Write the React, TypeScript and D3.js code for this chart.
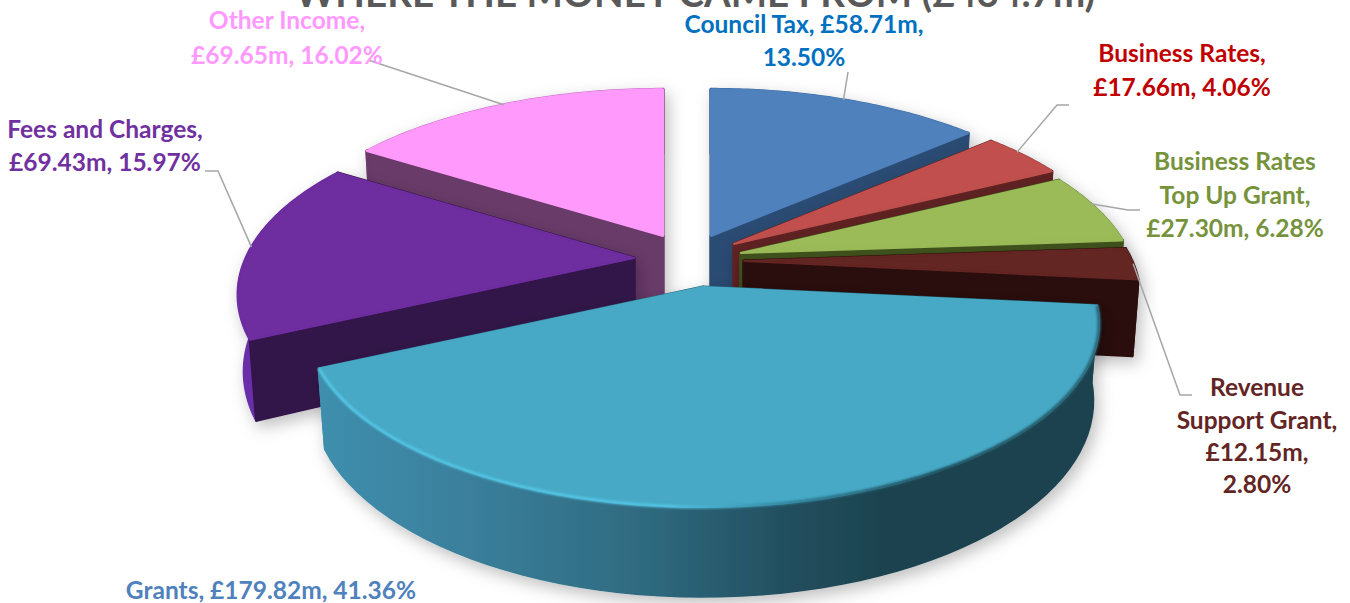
import { useEffect, useRef } from 'react';
import * as d3 from 'd3';

const categories = ['Council Tax', 'Business Rates', 'Business Rates Top Up Grant', 'Revenue Support Grant', 'Grants', 'Fees and Charges', 'Other Income'];
const amounts = [58.71, 17.66, 27.3, 12.15, 179.82, 69.43, 69.65];
const percents = [13.5, 4.06, 6.28, 2.8, 41.36, 15.97, 16.02];
const topColors = ['#4f81bd', '#c0504d', '#9bbb59', '#632523', '#46a9c5', '#6e2d9f', '#ff99fb'];
const wallColors = ['#2c4c73', '#612220', '#40521f', '#2a0c0c', 'url(#grantsWall)', '#31134a', '#693a69'];
const outerColors = ['#3d6a9e', '#8a3a38', '#6d8a3a', '#3a1513', 'url(#grantsWall)', '#6a2ea8', '#c070c0'];
const labelColors = ['#0070c0', '#c00000', '#76933c', '#632523', '#4f81bd', '#7030a0', '#ff99ff'];
const title = 'WHERE THE MONEY CAME FROM (£434.7m)';

const width = 1350;
const height = 603;
const radiusX = 388;
const radiusY = 176;
const tilt = 0.2;
const depth = 75;
const bottomShrink = 0.985;

// where each exploded slice has its point
const apexes: [number, number][] = [[711, 236], [734, 244], [741, 253], [744, 261], [703, 287], [634, 258], [663, 236]];

const labelLayout = [
  { x: 804, ys: [33, 66], lines: (a: string, p: string) => ['Council Tax, ' + a + ',', p], leader: [[848, 72], [848, 72]] },
  { x: 1182, ys: [62, 96], lines: (a: string, p: string) => ['Business Rates,', a + ', ' + p], leader: [[1069, 105], [1057, 105]] },
  { x: 1235, ys: [170, 204, 237], lines: (a: string, p: string) => ['Business Rates', 'Top Up Grant,', a + ', ' + p], leader: [[1140, 210], [1128, 210]] },
  { x: 1257, ys: [396, 429, 461, 493], lines: (a: string, p: string) => ['Revenue', 'Support Grant,', a + ',', p], leader: [[1192, 395], [1180, 395]] },
  { x: 271, ys: [599], lines: (a: string, p: string) => ['Grants, ' + a + ', ' + p], leader: [] },
  { x: 105, ys: [138, 171], lines: (a: string, p: string) => ['Fees and Charges,', a + ', ' + p], leader: [[205, 171], [218, 171]] },
  { x: 287, ys: [29, 64], lines: (a: string, p: string) => ['Other Income,', a + ', ' + p], leader: [[368, 60], [368, 60]] },
];
// leader lines meet the rim at this share of the slice's sweep
const leaderAt = [0.49, 0.4, 0.42, 0.5, 0.5, 0.5, 0.5];

export default function App() {
  const svgRef = useRef<SVGSVGElement>(null);

  useEffect(() => {
    if (!svgRef.current) {
      return;
    }
    const svg = d3.select(svgRef.current);
    svg.selectAll('*').remove();

    const defs = svg.append('defs');
    const shadow = defs.append('filter').attr('id', 'shadow').attr('x', '-20%').attr('y', '-20%').attr('width', '140%').attr('height', '140%');
    shadow.append('feDropShadow').attr('dx', 4).attr('dy', 6).attr('stdDeviation', 8).attr('flood-color', '#000').attr('flood-opacity', 0.25);
    defs.append('filter').attr('id', 'soft').append('feGaussianBlur').attr('stdDeviation', 1);

    const wallGrad = defs.append('linearGradient').attr('id', 'grantsWall').attr('gradientUnits', 'userSpaceOnUse').attr('x1', 314).attr('x2', 1100).attr('y1', 0).attr('y2', 0);
    [[0, '#3f8fae'], [0.2, '#3a7f9b'], [0.42, '#2f6a7f'], [0.6, '#234f60'], [0.72, '#1d434f'], [1, '#1d434f']].forEach(([o, c]) => {
      wallGrad.append('stop').attr('offset', o as number).attr('stop-color', c as string);
    });
    const rimGrad = defs.append('linearGradient').attr('id', 'grantsRim').attr('gradientUnits', 'userSpaceOnUse').attr('x1', 314).attr('x2', 1100).attr('y1', 0).attr('y2', 0);
    [[0, '#55c6e6'], [0.45, '#55c6e6'], [0.62, '#2f7c94'], [0.8, '#1d434f'], [1, '#2a6072']].forEach(([o, c]) => {
      rimGrad.append('stop').attr('offset', o as number).attr('stop-color', c as string);
    });

    const arcs = d3.pie<number>().sort(null).startAngle(0).endAngle(2 * Math.PI)(amounts);

    const project = (i: number, a: number, r: number, d: number): [number, number] => {
      const s = 1 / (1 + tilt * r * Math.cos(a));
      const [cx, cy] = apexes[i];
      return [cx + radiusX * r * Math.sin(a) * s, cy - radiusY * r * Math.cos(a) * s + d * s];
    };

    const line = d3.line();
    const sweep = (i: number, a0: number, a1: number, r: number, d: number) =>
      d3.range(0, 61).map((t) => project(i, a0 + ((a1 - a0) * t) / 60, r, d));

    // back to front, each slice covers the walls of the one behind it
    const drawOrder = [6, 0, 1, 2, 3, 5, 4];
    const pieG = svg.append('g');
    drawOrder.forEach((i) => {
      const { startAngle: a0, endAngle: a1 } = arcs[i];
      const g = pieG.append('g').attr('filter', 'url(#shadow)');
      const rimTop = sweep(i, a0, a1, 1, 0);
      const rimBottom = sweep(i, a0, a1, bottomShrink, depth).reverse();
      const apexTop = project(i, 0, 0, 0);
      const apexBottom = project(i, 0, 0, depth);

      g.append('path')
        .attr('d', `${line([...rimTop, ...rimBottom])}Z`)
        .attr('fill', outerColors[i])
        .attr('stroke', outerColors[i])
        .attr('stroke-width', 3)
        .attr('stroke-linejoin', 'round');
      [[rimTop[60], rimBottom[0]], [rimTop[0], rimBottom[60]]].forEach(([top, bottom]) => {
        g.append('path')
          .attr('d', `${line([apexTop, top, bottom, apexBottom])}Z`)
          .attr('fill', wallColors[i])
          .attr('stroke', wallColors[i])
          .attr('stroke-width', 3)
          .attr('stroke-linejoin', 'round');
      });
      g.append('path')
        .attr('d', `${line([apexTop, ...rimTop])}Z`)
        .attr('fill', topColors[i])
        .attr('stroke', topColors[i])
        .attr('stroke-width', 2)
        .attr('stroke-linejoin', 'round');
      if (i === 4) {
        g.append('path')
          .attr('d', line(rimTop))
          .attr('fill', 'none')
          .attr('stroke', 'url(#grantsRim)')
          .attr('stroke-width', 3)
          .attr('filter', 'url(#soft)');
      }
    });

    arcs.forEach((arc, i) => {
      const layout = labelLayout[i];
      const amount = `£${amounts[i].toFixed(2)}m`;
      const percent = `${percents[i].toFixed(2)}%`;
      if (layout.leader.length) {
        const rim = project(i, arc.startAngle + (arc.endAngle - arc.startAngle) * leaderAt[i], 1, 0);
        svg.append('path')
          .attr('d', line([...(layout.leader as [number, number][]), rim]))
          .attr('fill', 'none')
          .attr('stroke', '#a6a6a6')
          .attr('stroke-width', 1.5);
      }
      layout.lines(amount, percent).forEach((text, j) => {
        svg.append('text')
          .attr('x', layout.x)
          .attr('y', layout.ys[j])
          .attr('text-anchor', 'middle')
          .attr('font-family', 'Lato')
          .attr('font-weight', 700)
          .attr('font-size', 24.5)
          .attr('fill', labelColors[i])
          .text(text);
      });
    });

    svg.append('text')
      .attr('x', 695)
      .attr('y', 7)
      .attr('text-anchor', 'middle')
      .attr('font-family', 'Lato')
      .attr('font-weight', 700)
      .attr('font-size', 38.5)
      .attr('fill', '#595959')
      .text(title);
  }, []);

  return (
    <div style={{ position: 'absolute', left: 0, top: 0 }}>
      <svg ref={svgRef} width={width} height={height} style={{ display: 'block' }} aria-label={categories.join(', ')} />
    </div>
  );
}
